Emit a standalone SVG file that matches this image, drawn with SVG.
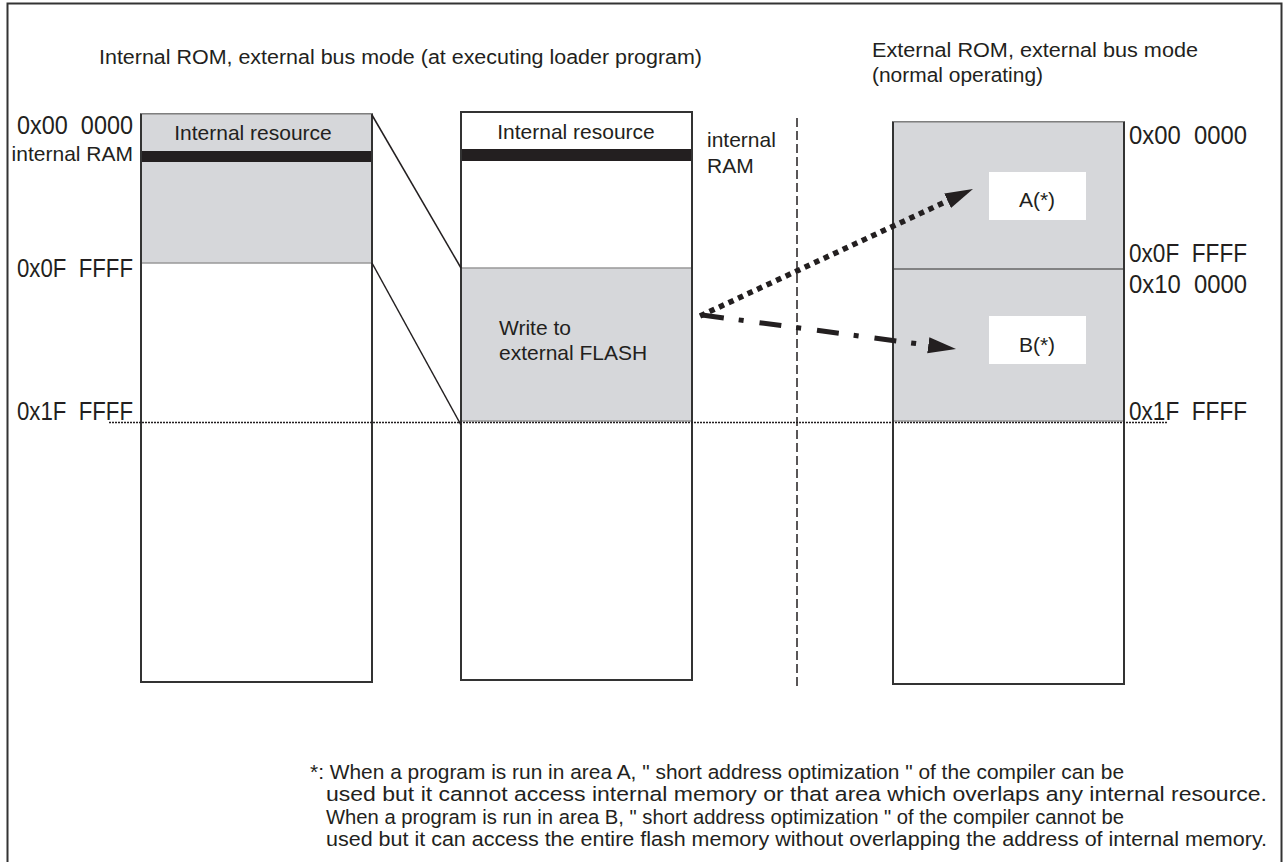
<svg xmlns="http://www.w3.org/2000/svg" width="1288" height="862" viewBox="0 0 1288 862">
<style>
.t{font-family:"Liberation Sans",Arial,sans-serif;fill:#231f20}
.lbl{font-size:21px}
.addr{font-size:26px;white-space:pre}
.ttl{font-size:20px}
.fn{font-size:20.5px}
.box{fill:#fff;stroke:#333;stroke-width:2}
.grey{fill:#d6d7da;stroke:#999;stroke-width:1.5}
.bar{fill:#231f20}
.link{stroke:#231f20;stroke-width:1.5;fill:none}
</style>
<defs>
<marker id="ah" markerUnits="userSpaceOnUse" markerWidth="30" markerHeight="18" refX="0" refY="8" orient="auto">
<path d="M0,0 L28,8 L0,16 z" fill="#231f20"/>
</marker>
</defs>
<rect x="7.5" y="3.5" width="1274" height="880" fill="#fff" stroke="#333" stroke-width="2"/>
<text class="t ttl" x="99" y="64" textLength="603" lengthAdjust="spacingAndGlyphs">Internal ROM, external bus mode (at executing loader program)</text>
<text class="t ttl" x="872" y="57" textLength="326" lengthAdjust="spacingAndGlyphs">External ROM, external bus mode</text>
<text class="t ttl" x="872" y="82" textLength="171" lengthAdjust="spacingAndGlyphs">(normal operating)</text>

<g id="left-map">
<rect class="box" x="141" y="114" width="231" height="568"/>
<rect class="grey" x="141" y="114" width="231" height="149"/>
<rect class="bar" x="141" y="151" width="231" height="11"/>
<line x1="141" y1="114" x2="141" y2="682" stroke="#333" stroke-width="2"/>
<line x1="372" y1="114" x2="372" y2="682" stroke="#333" stroke-width="2"/>
<text class="t lbl" x="253" y="140" text-anchor="middle">Internal resource</text>
<text class="t addr" x="17" y="134" textLength="116" lengthAdjust="spacingAndGlyphs" xml:space="preserve">0x00  0000</text>
<text class="t lbl" x="133" y="161" text-anchor="end">internal RAM</text>
<text class="t addr" x="17" y="277" textLength="116" lengthAdjust="spacingAndGlyphs" xml:space="preserve">0x0F  FFFF</text>
<text class="t addr" x="17" y="420" textLength="116" lengthAdjust="spacingAndGlyphs" xml:space="preserve">0x1F  FFFF</text>
</g>

<g id="middle-map">
<rect class="box" x="461" y="112" width="231" height="568"/>
<rect class="grey" x="461" y="268" width="231" height="153"/>
<rect class="bar" x="461" y="149" width="231" height="12"/>
<line x1="461" y1="112" x2="461" y2="680" stroke="#333" stroke-width="2"/>
<line x1="692" y1="112" x2="692" y2="680" stroke="#333" stroke-width="2"/>
<text class="t lbl" x="576" y="139" text-anchor="middle">Internal resource</text>
<text class="t lbl" x="707" y="147">internal</text>
<text class="t lbl" x="707" y="173">RAM</text>
<text class="t lbl" x="499" y="335">Write to</text>
<text class="t lbl" x="499" y="360">external FLASH</text>
</g>

<g id="right-map">
<rect class="box" x="893" y="122" width="231" height="562"/>
<rect class="grey" x="893" y="122" width="231" height="299"/>
<line x1="893" y1="269" x2="1124" y2="269" stroke="#666" stroke-width="1.5"/>
<line x1="893" y1="122" x2="893" y2="684" stroke="#333" stroke-width="2"/>
<line x1="1124" y1="122" x2="1124" y2="684" stroke="#333" stroke-width="2"/>
<text class="t addr" x="1129" y="144" textLength="118" lengthAdjust="spacingAndGlyphs" xml:space="preserve">0x00  0000</text>
<text class="t addr" x="1129" y="262" textLength="118" lengthAdjust="spacingAndGlyphs" xml:space="preserve">0x0F  FFFF</text>
<text class="t addr" x="1129" y="293" textLength="118" lengthAdjust="spacingAndGlyphs" xml:space="preserve">0x10  0000</text>
<text class="t addr" x="1129" y="420" textLength="118" lengthAdjust="spacingAndGlyphs" xml:space="preserve">0x1F  FFFF</text>
</g>
<g id="area-a">
<rect x="989" y="172" width="97" height="48" fill="#fff"/>
<text class="t lbl" x="1037" y="207" text-anchor="middle">A(*)</text>
</g>
<g id="area-b">
<rect x="989" y="316" width="97" height="48" fill="#fff"/>
<text class="t lbl" x="1037" y="352" text-anchor="middle">B(*)</text>
</g>

<g id="connectors">
<line x1="109" y1="422.5" x2="1167" y2="422.5" stroke="#231f20" stroke-width="1.5" stroke-dasharray="2 1"/>
<line x1="797" y1="118" x2="797" y2="686" stroke="#231f20" stroke-width="1.5" stroke-dasharray="9 4"/>
<line class="link" x1="372" y1="115" x2="461" y2="268"/>
<line class="link" x1="372" y1="263" x2="461" y2="425"/>
<line x1="700" y1="316" x2="947.6" y2="200.8" stroke="#231f20" stroke-width="5.5" stroke-dasharray="5.5 5" marker-end="url(#ah)"/>
<line x1="702" y1="315" x2="928.3" y2="345.2" stroke="#231f20" stroke-width="5" stroke-dasharray="22 15 5 16" marker-end="url(#ah)"/>
</g>

<g id="footnote">
<text class="t fn" x="310" y="779" textLength="814" lengthAdjust="spacingAndGlyphs">*: When a program is run in area A, " short address optimization " of the compiler can be</text>
<text class="t fn" x="326" y="801" textLength="941" lengthAdjust="spacingAndGlyphs">used but it cannot access internal memory or that area which overlaps any internal resource.</text>
<text class="t fn" x="326" y="824" textLength="798" lengthAdjust="spacingAndGlyphs">When a program is run in area B, " short address optimization " of the compiler cannot be</text>
<text class="t fn" x="326" y="846" textLength="941" lengthAdjust="spacingAndGlyphs">used but it can access the entire flash memory without overlapping the address of internal memory.</text>
</g>
</svg>
